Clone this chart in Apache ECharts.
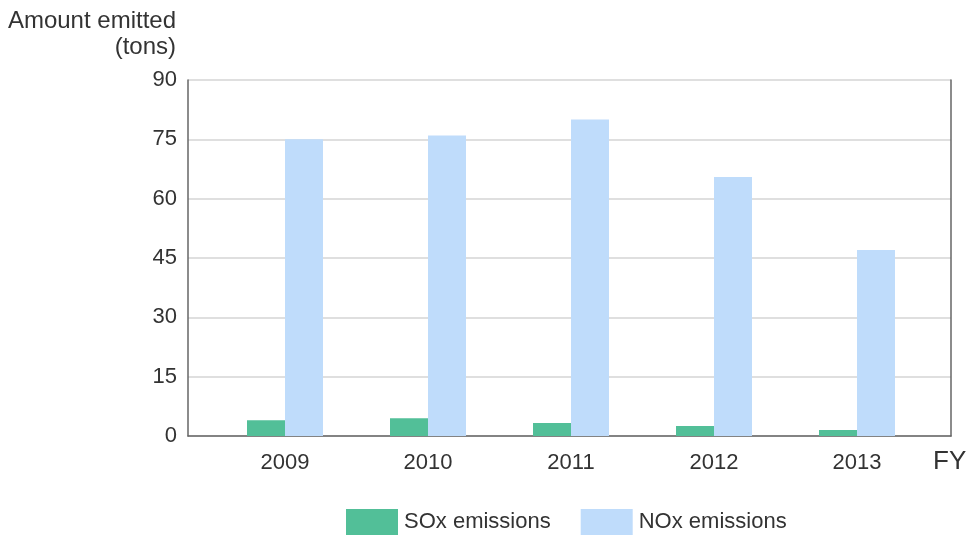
<!DOCTYPE html>
<html>
<head>
<meta charset="utf-8">
<script src="https://cdn.jsdelivr.net/npm/echarts@6/dist/echarts.min.js"></script>
<style>
html,body{margin:0;padding:0;background:#fff;}
#chart{width:969px;height:535px;}
</style>
</head>
<body>
<div id="chart"></div>
<script>
var categories = ['2009', '2010', '2011', '2012', '2013'];
var soxValues = [4.0, 4.5, 3.3, 2.5, 1.5];
var noxValues = [75, 76, 80, 65.5, 47];
var yTicks = { min: 0, max: 90, interval: 15 };
var seriesNames = ['SOx emissions', 'NOx emissions'];

var FONT = '"Liberation Sans", Arial, sans-serif';
var chart = echarts.init(document.getElementById('chart'), null, { renderer: 'canvas' });

var option = {
  animation: false,
  backgroundColor: '#ffffff',
  textStyle: { fontFamily: FONT },
  grid: [
    { left: 188, right: 18, top: 80, bottom: 99, containLabel: false },
    { left: 213.5, right: 40.5, top: 80, bottom: 99, containLabel: false }
  ],
  xAxis: [
    {
      gridIndex: 0, type: 'value', min: 0, max: 1,
      axisLine: { show: true, lineStyle: { color: '#666', width: 1.5 } },
      axisTick: { show: false }, axisLabel: { show: false }, splitLine: { show: false }
    },
    {
      gridIndex: 1, type: 'category', data: categories, boundaryGap: true,
      axisLine: { show: false }, axisTick: { show: false },
      axisLabel: { color: '#333', fontSize: 22, margin: 16, fontFamily: FONT }
    }
  ],
  yAxis: [
    {
      gridIndex: 0, type: 'value', min: yTicks.min, max: yTicks.max, interval: yTicks.interval,
      axisLine: { show: true, lineStyle: { color: '#666', width: 1.5 } },
      axisTick: { show: false },
      axisLabel: { color: '#333', fontSize: 22, margin: 11, fontFamily: FONT, padding: [6, 0, 0, 0] },
      splitLine: { show: true, lineStyle: { color: '#d4d4d4', width: 1.5 } }
    },
    {
      gridIndex: 0, type: 'value', position: 'right', min: yTicks.min, max: yTicks.max, interval: yTicks.interval,
      axisLine: { show: true, lineStyle: { color: '#666', width: 1.5 } },
      axisTick: { show: false }, axisLabel: { show: false }, splitLine: { show: false }
    },
    {
      gridIndex: 1, type: 'value', min: yTicks.min, max: yTicks.max, interval: yTicks.interval, show: false
    }
  ],
  legend: {
    bottom: 0, left: 346, padding: 0,
    itemWidth: 52, itemHeight: 26, itemGap: 30,
    icon: 'rect',
    textStyle: { color: '#333', fontSize: 22, fontFamily: FONT, padding: [0, 0, 0, 1] },
    data: seriesNames
  },
  graphic: [
    { type: 'text', right: 969 - 176, top: 9, style: { text: 'Amount emitted', fill: '#333', font: '24px ' + FONT, textAlign: 'right' } },
    { type: 'text', right: 969 - 176, top: 35, style: { text: '(tons)', fill: '#333', font: '24px ' + FONT, textAlign: 'right' } },
    { type: 'text', left: 933, top: 449, style: { text: 'FY', fill: '#333', font: '26px ' + FONT } }
  ],
  series: [
    {
      name: seriesNames[0], type: 'bar', xAxisIndex: 1, yAxisIndex: 2,
      data: soxValues, barWidth: 38, barGap: '0%',
      itemStyle: { color: '#52bf98' }
    },
    {
      name: seriesNames[1], type: 'bar', xAxisIndex: 1, yAxisIndex: 2,
      data: noxValues, barWidth: 38, barGap: '0%',
      itemStyle: { color: '#bfdcfb' }
    }
  ]
};
chart.setOption(option);
</script>
</body>
</html>
